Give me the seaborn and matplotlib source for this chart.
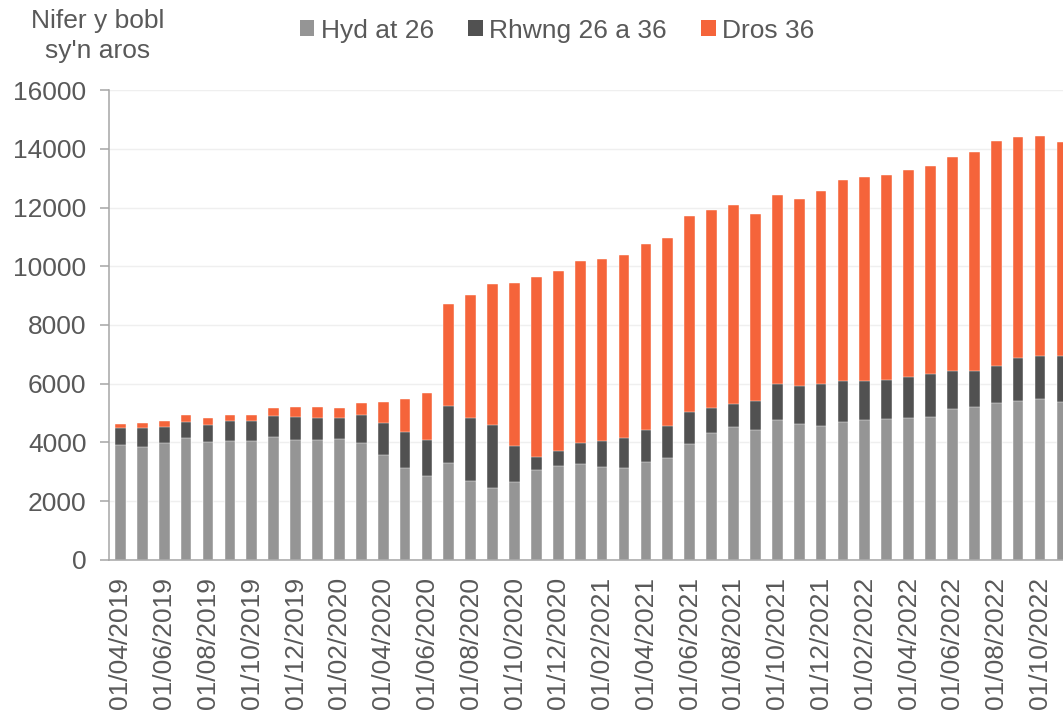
import matplotlib
matplotlib.use("Agg")
import matplotlib.pyplot as plt
from matplotlib.patches import Patch
import pandas as pd
import seaborn as sns

# monthly snapshots, 01/04/2019 .. 01/11/2022
months = pd.date_range("2019-04-01", "2022-11-01", freq="MS").strftime("%d/%m/%Y").tolist()

# people waiting, by weeks waited
hyd_at_26 = [3915, 3847, 3983, 4153, 4017, 4051, 4051, 4187, 4085, 4085, 4119,
             3994, 3563, 3132, 2848, 3302, 2689, 2451, 2655, 3064, 3211, 3268,
             3155, 3143, 3336, 3483, 3949, 4323, 4539, 4425, 4777, 4630, 4561,
             4709, 4766, 4800, 4834, 4868, 5129, 5208, 5356, 5413, 5469, 5390]
rhwng_26_36 = [590, 635, 556, 556, 590, 692, 692, 726, 794, 760, 726,
               953, 1112, 1237, 1237, 1952, 2156, 2144, 1214, 431, 488, 703,
               907, 1021, 1089, 1090, 1078, 863, 760, 999, 1202, 1293, 1441,
               1395, 1338, 1338, 1406, 1463, 1316, 1214, 1259, 1452, 1464, 1566]
dros_36 = [125, 182, 182, 227, 238, 193, 193, 250, 318, 352, 341,
           397, 715, 1112, 1589, 3449, 4176, 4789, 5572, 6150, 6139, 6207,
           6195, 6218, 6332, 6377, 6683, 6717, 6774, 6354, 6457, 6366, 6548,
           6831, 6922, 6967, 7024, 7069, 7273, 7466, 7636, 7522, 7500, 7273]

labels = ["Hyd at 26", "Rhwng 26 a 36", "Dros 36"]
colours = ["#959595", "#515151", "#F5643A"]
text_col = "#595959"
fs = 19

df = pd.DataFrame({"month": months, "a": hyd_at_26, "b": rhwng_26_36, "c": dros_36})
df["ab"] = df["a"] + df["b"]
df["abc"] = df["ab"] + df["c"]

sns.set_style("white")
plt.rcParams["font.family"] = ["Liberation Sans", "DejaVu Sans"]
plt.rcParams["font.size"] = fs

fig = plt.figure(figsize=(10.63, 7.11), dpi=100)
ax = fig.add_axes([0.103, 0.2124, 0.897, 0.661])

# stacked bars: draw totals first, then overlay lower parts
for col, c in zip(["abc", "ab", "a"], colours[::-1]):
    sns.barplot(data=df, x="month", y=col, color=c, width=0.49, ax=ax,
                saturation=1, edgecolor="white", linewidth=0.3)

ax.set_xlim(-0.5, 43.05)
ax.set_ylim(0, 16000)
ax.set_yticks(range(0, 16001, 2000))
ax.set_xticks(range(0, len(months), 2))
ax.set_xticklabels(months[::2], rotation=90)
ax.set_xlabel("")
ax.set_ylabel("")

ax.yaxis.grid(True, color="#efefef", linewidth=1)
ax.set_axisbelow(True)
for s in ["top", "right"]:
    ax.spines[s].set_visible(False)
for s in ["left", "bottom"]:
    ax.spines[s].set_color("#a6a6a6")
    ax.spines[s].set_linewidth(1.1)
ax.tick_params(axis="y", left=True, length=6.5, width=1.1, color="#a6a6a6",
               pad=10, labelcolor=text_col, labelsize=fs)
ax.tick_params(axis="x", bottom=False, length=0, pad=12, labelcolor=text_col, labelsize=fs)

handles = [Patch(facecolor=c, edgecolor="none") for c in colours]
fig.legend(handles, labels, loc="center", bbox_to_anchor=(0.524, 0.957), ncol=3,
           frameon=False, fontsize=fs, handlelength=0.55, handleheight=0.55,
           handletextpad=0.25, columnspacing=1.3, labelcolor=text_col)

fig.text(0.092, 0.949, "Nifer y bobl\nsy'n aros", ha="center", va="center",
         fontsize=fs, color=text_col, linespacing=1.3)

fig.savefig("out.png", dpi=100)
